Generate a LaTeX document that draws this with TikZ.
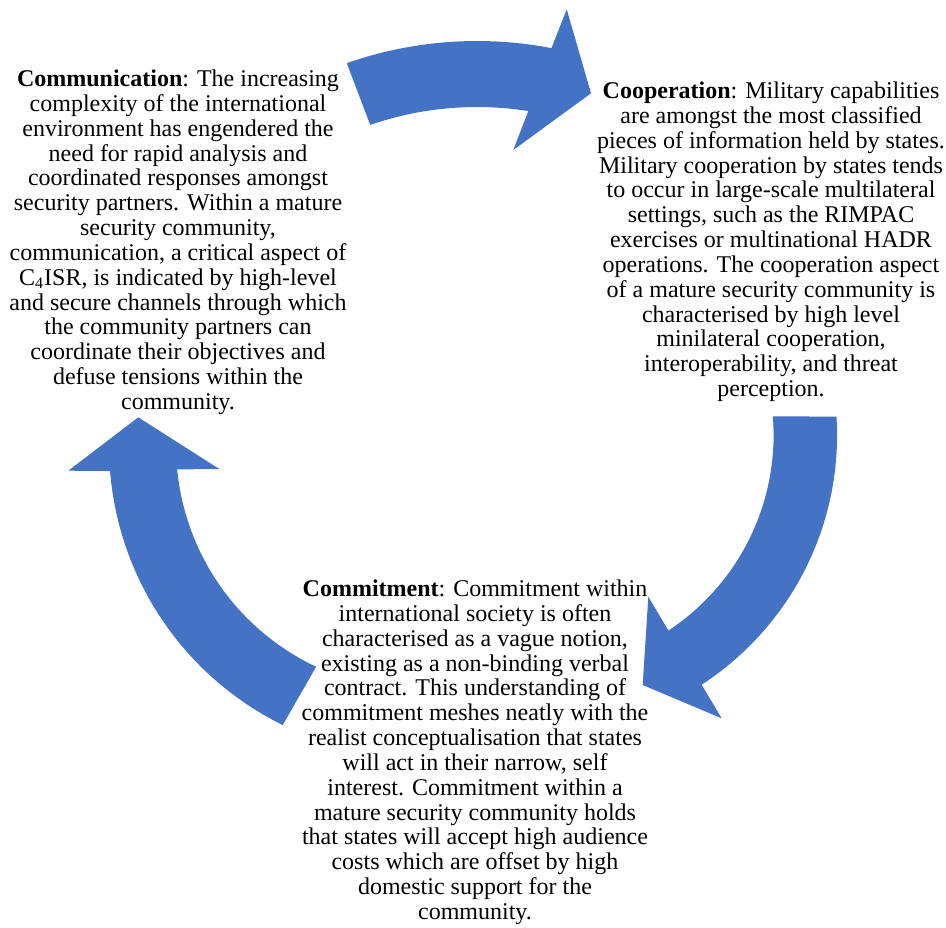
\documentclass[tikz,border=0pt]{standalone}
\usepackage{fontspec}
\setmainfont{Liberation Serif}
\usepackage{xcolor}
\usepackage{tikz}
\definecolor{cycleblue}{RGB}{68, 114, 196}

\begin{document}
\begin{tikzpicture}[x=0.5pt, y=-0.5pt]
    \tikzstyle{aspect} = [anchor=north, inner sep=0pt, align=center, font=\fontsize{12}{12.42}\selectfont]
    \tikzstyle{cyclearrow} = [fill=cycleblue]

    \useasboundingbox (0,0) rectangle (946,927);

    % curved arrows of the cycle
    \fill[cyclearrow] plot[domain=-109.3:-79.1, samples=30] ({477+394*cos(\x)}, {435+394*sin(\x)})
        -- (566.7,9.3) -- (591,93.3) -- (513.3,150)
        -- plot[domain=-81:-109, samples=30] ({477+328*cos(\x)}, {435+328*sin(\x)}) -- cycle;
    \fill[cyclearrow] plot[domain=-3.6:57, samples=30] ({539.6+297.5*cos(\x)}, {435.2+297.5*sin(\x)})
        -- (721.7,718.3) -- (642.7,685) -- (648.3,596.7)
        -- plot[domain=56.6:-4.6, samples=30] ({539.6+234*cos(\x)}, {435.2+234*sin(\x)}) -- cycle;
    \fill[cyclearrow] (138.3,417.3) -- (219.3,469)
        -- plot[domain=174.5:115.2, samples=30] ({420+244*cos(\x)}, {446+244*sin(\x)})
        -- plot[domain=116.2:175.4, samples=30] ({420+311*cos(\x)}, {446+311*sin(\x)})
        -- (68.3,470.7) -- cycle;

    \node[aspect] (communication) at (178,69.5) {\textbf{Communication}: The increasing\\
        complexity of the international\\
        environment has engendered the\\
        need for rapid analysis and\\
        coordinated responses amongst\\
        security partners. Within a mature\\
        security community,\\
        communication, a critical aspect of\\
        C\textsubscript{4}ISR, is indicated by high-level\\
        and secure channels through which\\
        the community partners can\\
        coordinate their objectives and\\
        defuse tensions within the\\
        community.};
    \node[aspect] (cooperation) at (771,81.5) {\textbf{Cooperation}: Military capabilities\\
        are amongst the most classified\\
        pieces of information held by states.\\
        Military cooperation by states tends\\
        to occur in large-scale multilateral\\
        settings, such as the RIMPAC\\
        exercises or multinational HADR\\
        operations. The cooperation aspect\\
        of a mature security community is\\
        characterised by high level\\
        minilateral cooperation,\\
        interoperability, and threat\\
        perception.};
    \node[aspect] (commitment) at (475,579.5) {\textbf{Commitment}: Commitment within\\
        international society is often\\
        characterised as a vague notion,\\
        existing as a non-binding verbal\\
        contract. This understanding of\\
        commitment meshes neatly with the\\
        realist conceptualisation that states\\
        will act in their narrow, self\\
        interest. Commitment within a\\
        mature security community holds\\
        that states will accept high audience\\
        costs which are offset by high\\
        domestic support for the\\
        community.};
\end{tikzpicture}
\end{document}
